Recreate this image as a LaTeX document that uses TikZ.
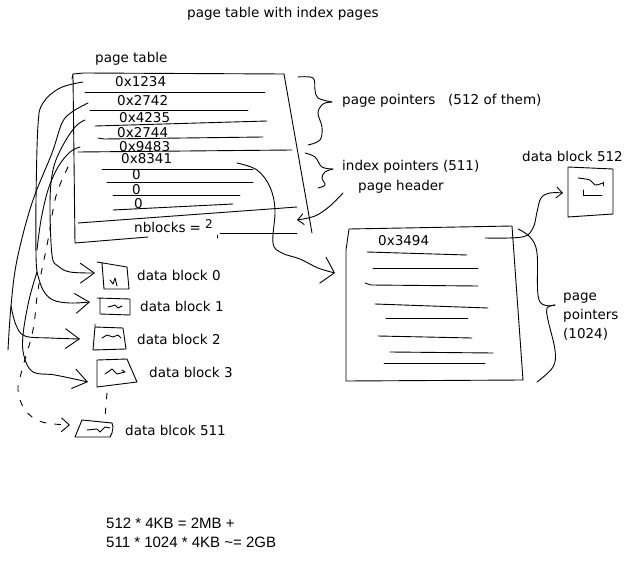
\documentclass[tikz,border=0pt]{standalone}
\usepackage{fontspec}
\setmainfont{DejaVu Sans}
\newfontfamily\calcfont{Liberation Sans}
\usetikzlibrary{arrows.meta}
\begin{document}
\begin{tikzpicture}[x=1pt,y=-1pt,
  pen/.style={line width=0.9pt, line cap=round, line join=round},
  lbl/.style={anchor=base west, inner sep=0pt, font=\fontsize{13.5}{16}\selectfont},
  calcl/.style={anchor=base west, inner sep=0pt, font=\calcfont\fontsize{15}{18}\selectfont},
  barb/.style={pen, -{Straight Barb[length=14pt,width=20pt,line width=0.9pt]}},
  bigbarb/.style={pen, -{Straight Barb[length=12pt,width=27pt,line width=0.9pt]}},
  smallbarb/.style={pen, -{Straight Barb[length=6pt,width=11pt,line width=0.9pt]}},
  dashpen/.style={pen, dash pattern=on 6pt off 9pt},
]
\useasboundingbox (0,0) rectangle (633,586);

% ---------- texts ----------
\node[lbl] (title) at (187,18) {page table with index pages};
\node[lbl] (pt) at (95,63) {page table};
\node[lbl] (v1) at (115,87) {0x1234};
\node[lbl] (v2) at (117,106) {0x2742};
\node[lbl] (v3) at (119,123) {0x4235};
\node[lbl] (v4) at (117,138) {0x2744};
\node[lbl] (v5) at (119,152) {0x9483};
\node[lbl] (v6) at (121,164) {0x8341};
\node[lbl] (z1) at (132,179) {0};
\node[lbl] (z2) at (132,194) {0};
\node[lbl] (z3) at (134,208) {0};
\node[lbl] (nb) at (134,233) {nblocks\hspace{4pt}=};
\node[lbl, font=\fontsize{12}{14}\selectfont] (nb2) at (205,228) {2};
\node[lbl] (pp) at (342,105) {page pointers\hspace{12.7pt}(512 of them)};
\node[lbl] (ip) at (342,171) {index pointers (511)};
\node[lbl] (ph) at (358,190) {page header};
\node[lbl] (d512) at (522,162) {data block 512};
\node[lbl] (x3494) at (378,245) {0x3494};
\node[lbl] (pq1) at (563,300) {page};
\node[lbl] (pq2) at (563,319) {pointers};
\node[lbl] (pq3) at (563,338) {(1024)};
\node[lbl] (db0) at (137,280) {data block 0};
\node[lbl] (db1) at (140,311) {data block 1};
\node[lbl] (db2) at (137,344) {data block 2};
\node[lbl] (db3) at (149,377) {data block 3};
\node[lbl] (db511) at (125,435) {data blcok 511};
\node[calcl] (c1) at (106,528) {512 * 4KB = 2MB +};
\node[calcl] (c2) at (106,547) {511 * 1024 * 4KB \textasciitilde= 2GB};

% ---------- page table outline ----------
\draw[pen] (72,79) -- (73,74) -- (84,73) -- (284,74) -- (312,233);
\draw[pen] (73,76) -- (75,243) -- (148,237);
\draw[pen] (220,233) -- (297,233);
\draw[pen] (217,235) -- (217,238);
% rows
\draw[pen] (85,92) -- (265,92);
\draw[pen] (90,110) -- (248,110);
\draw[pen] (95,126) -- (267,121);
\draw[pen] (98,138) -- (104,139) -- (263,137);
\draw[pen] (78,152) -- (292,150);
\draw[pen] (102,169) -- (253,169);
\draw[pen] (107,182) -- (253,182);
\draw[pen] (113,195) -- (240,195);
\draw[pen] (113,210) -- (233,204);
\draw[pen] (78,223) -- (297,207);

% ---------- braces ----------
\draw[pen] plot[smooth, tension=0.6] coordinates {(298,77) (313,78) (315,90) (318,98) (332,102)};
\draw[pen] plot[smooth, tension=0.6] coordinates {(332,102) (323,104) (318,113) (322,127) (320,140) (308,145)};
\draw[pen] plot[smooth, tension=0.6] coordinates {(305,153) (315,157) (322,167) (333,169)};
\draw[pen] plot[smooth, tension=0.6] coordinates {(333,169) (325,172) (322,178) (325,185) (318,188)};
\draw[pen] plot[smooth, tension=0.6] coordinates {(518,229) (530,237) (537,253) (539,300) (555,305)};
\draw[pen] plot[smooth, tension=0.6] coordinates {(555,305) (547,308) (548,320) (555,350) (553,367) (537,382)};

% ---------- index page ----------
\draw[pen] (349,229) -- (512,226) -- (523,380) -- (346,381) -- (346,250) -- cycle;
\draw[pen] (367,252) -- (467,255);
\draw[pen] (373,268) -- (478,268);
\draw[pen] (365,283) -- (371,285) -- (478,286);
\draw[pen] (375,304) -- (488,308);
\draw[pen] (386,318) -- (468,318);
\draw[pen] (378,336) -- (472,338);
\draw[pen] (390,352) -- (493,353);
\draw[pen] (384,363) -- (485,363);

% ---------- data block 512 ----------
\draw[pen] (568,167) -- (613,169) -- (613,214) -- (568,217) -- cycle;
\draw[pen] plot[smooth] coordinates {(578,178) (590,180) (595,185) (603,183)};
\draw[pen] (603,182) -- (603,186);
\draw[pen] (583,190) -- (583,195) -- (602,195);

% ---------- data blocks ----------
\draw[pen] (97,262) -- (127,267) -- (129,289) -- (104,289) -- (102,263);
\draw[pen] (110,280) -- (113,284) -- (115,278) -- (117,286);
\draw[pen] (97,298) -- (130,299) -- (130,315) -- (100,314) -- (100,298);
\draw[pen] (108,307) -- (112,306) -- (115,305) -- (118,308) -- (122,306);
\draw[pen] (95,324) -- (95,327) -- (123,328) -- (126,349) -- (93,350) -- (95,327);
\draw[pen] (102,338) -- (107,335) -- (113,337) -- (118,335) -- (121,338);
\draw[pen] (97,360) -- (127,359) -- (137,382) -- (97,387) -- cycle;
\draw[pen] (105,374) -- (112,369) -- (117,374) -- (125,372) -- (122,370);
\draw[pen] (82,420) -- (112,423) -- (113,427) -- (112,433) -- (110,437) -- (75,437) -- cycle;
\draw[pen] (87,430) -- (97,429) -- (100,432) -- (105,427) -- (110,428);
\draw[dashpen] (107,393) -- (105,417);

% ---------- named points ----------
\coordinate (r1) at (83,82);
\coordinate (r2) at (88,103);
\coordinate (r3) at (85,120);
\coordinate (r5) at (80,147);
\coordinate (r6) at (237,163);
\coordinate (rd) at (68,167);
\coordinate (ja) at (37,272);
\coordinate (jb) at (11,306);
\coordinate (t0) at (95,273);
\coordinate (t1) at (90,302);
\coordinate (t2) at (80,339);
\coordinate (t3) at (88,382);
\coordinate (t511) at (70,425);
\coordinate (tidx) at (335,273);
\coordinate (hs) at (343,193);
\coordinate (thdr) at (297,220);
\coordinate (s3494) at (485,238);
\coordinate (t512) at (563,193);

% ---------- connectors ----------
% 0x1234
\draw[pen] plot[smooth, tension=0.6] coordinates {(r1) (60,88) (43,103) (38,125) (36,200) (36,255) (ja)};
\draw[barb] plot[smooth, tension=0.6] coordinates {(ja) (43,290) (53,300) (70,303) (t1)};
\draw[barb] plot[smooth, tension=0.6] coordinates {(ja) (29,300) (23,335) (24,356) (33,372) (55,375) (t3)};
% 0x2742
\draw[pen] plot[smooth, tension=0.6] coordinates {(r2) (72,112) (62,123) (52,153) (32,203) (17,260) (jb) (8,350)};
\draw[barb] plot[smooth, tension=0.6] coordinates {(jb) (16,325) (25,336) (50,338) (t2)};
% 0x4235
\draw[barb] plot[smooth, tension=0.6] coordinates {(r3) (75,127) (62,147) (53,170) (50,203) (52,255) (58,266) (70,272) (t0)};
% 0x9483
\draw[pen] plot[smooth, tension=0.6] coordinates {(r5) (70,152) (58,167) (48,190) (41,220) (37,250)};
% dashed to block 511
\draw[dashpen, -{Straight Barb[length=8pt,width=14pt,line width=0.9pt]}] plot[smooth, tension=0.6] coordinates {(rd) (56,196) (48,240) (38,290) (33,330) (22,370) (18,390) (25,410) (42,422) (t511)};
% 0x8341 -> index page
\draw[bigbarb] plot[smooth, tension=0.6] coordinates {(r6) (257,170) (270,187) (275,210) (273,243) (282,253) (300,259) (318,268) (tidx)};
% page header
\draw[smallbarb] plot[smooth, tension=0.6] coordinates {(hs) (330,206) (315,216) (thdr)};
% 0x3494 -> data block 512
\draw[smallbarb] plot[smooth, tension=0.6] coordinates {(s3494) (522,237) (533,228) (537,212) (541,198) (550,193) (t512)};

\end{tikzpicture}
\end{document}
